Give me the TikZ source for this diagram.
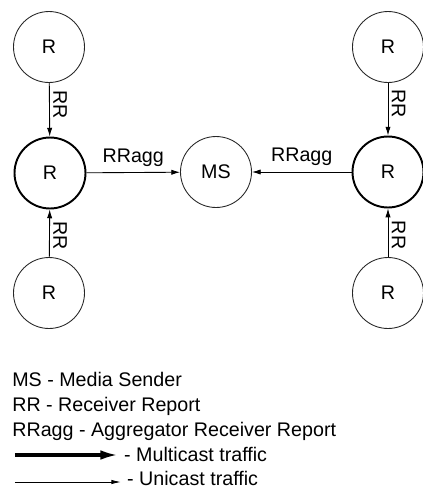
\documentclass[tikz,border=0pt]{standalone}
\usepackage{fontspec}
\setmainfont{Liberation Sans}
\usetikzlibrary{arrows.meta}

\begin{document}
\begin{tikzpicture}[x=0.02cm, y=-0.02cm, font=\fontsize{11.2}{13}\selectfont]
            \tikzset{node/.style={draw, circle, draw=black!85, line width=0.5pt, minimum size=1.42cm, inner sep=0pt},
                     aggnode/.style={node, draw=black, line width=1.1pt},
                     report/.style={-{Latex[length=5pt,width=3pt]}, line width=0.5pt},
                     multi/.style={-{Latex[length=10pt,width=5.5pt]}, line width=1.8pt},
                     uni/.style={-{Latex[length=5.5pt,width=2.5pt]}, line width=0.5pt}};
            \useasboundingbox (0,0) rectangle (423,488);
            
            \node[node] (1) at (49,47) {R};
            \node[aggnode] (2) at (50,173) {R};
            \node[node] (3) at (49,293) {R};
            \node[node] (ms) at (216,172) {MS};
            \node[node] (4) at (388,47) {R};
            \node[aggnode] (5) at (388,172) {R};
            \node[node] (6) at (388,293) {R};
            
            \draw[report] (1) -- node[pos=0.4, rotate=-90, anchor=south, inner sep=2pt] {RR} (2);
            \draw[report] (3) -- node[pos=0.45, rotate=-90, anchor=south, inner sep=2pt] {RR} (2);
            \draw[report] (4) -- node[pos=0.4, rotate=-90, anchor=south, inner sep=2pt] {RR} (5);
            \draw[report] (6) -- node[pos=0.45, rotate=-90, anchor=south, inner sep=2pt] {RR} (5);
            \draw[report] (2) -- node[midway, above] {RRagg} (ms);
            \draw[report] (5) -- node[midway, above] {RRagg} (ms);
            
            % legend
            \node[anchor=base west, inner sep=0pt] (l1) at (12,386) {MS - Media Sender};
            \node[anchor=base west, inner sep=0pt] (l2) at (12,411) {RR - Receiver Report};
            \node[anchor=base west, inner sep=0pt] (l3) at (12,436) {RRagg - Aggregator Receiver Report};
            \coordinate (m0) at (15,455);
            \node[anchor=base west] (m1) at (118,461) {- Multicast traffic};
            \coordinate (u0) at (15,482);
            \node[anchor=base west] (u1) at (121,485) {- Unicast traffic};
            \draw[multi] (m0) -- (m0 -| m1.west);
            \draw[uni] (u0) -- (u0 -| u1.west);
        \end{tikzpicture}
\end{document}
